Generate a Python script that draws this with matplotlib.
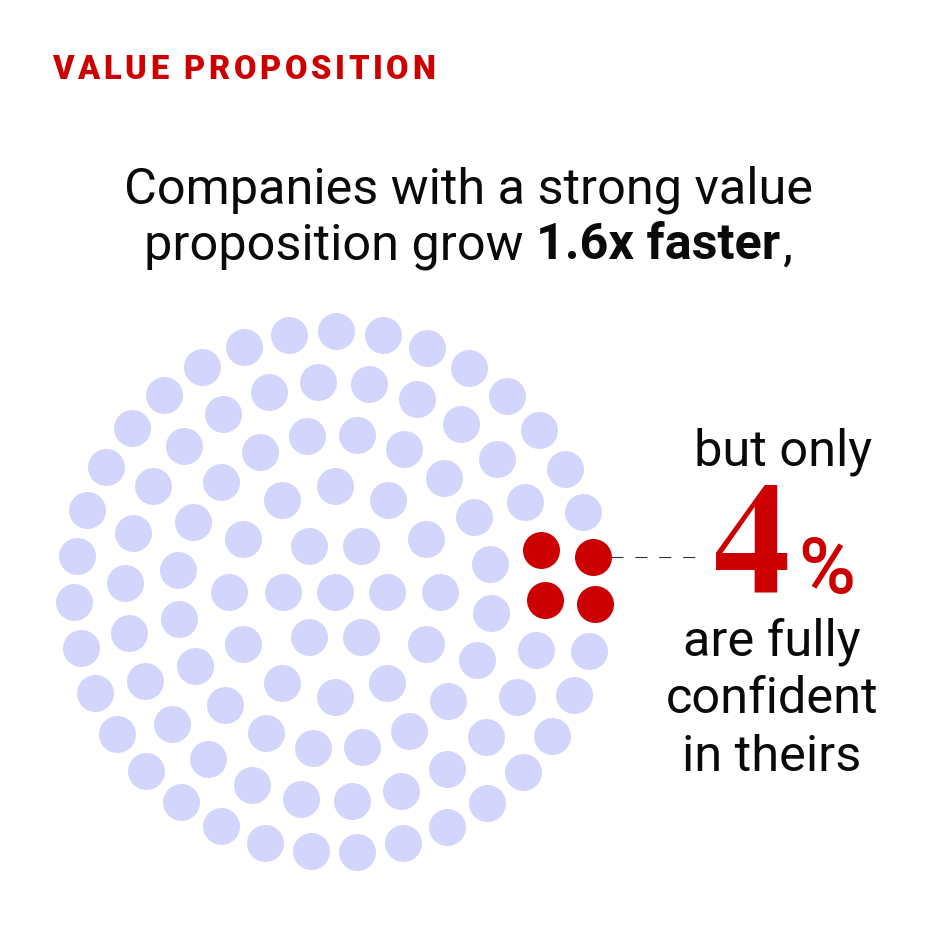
import matplotlib.pyplot as plt

plt.rcParams['lines.scale_dashes'] = False

# dot centres, in pixels (y grows downward)
# 96 light dots: outer ring, second ring, third ring, fourth ring, centre
light_x = [335.8, 382.5, 427.3, 469.4, 506.9, 539.4, 565.1, 583.1,
           588.8, 574.2, 552.1, 522.6, 487.4, 447.2, 403.2, 357.3, 310.6,
           264.6, 221.0, 180.8, 146.0, 116.9, 94.7, 80.6, 74.4, 76.7, 87.1,
           105.8, 131.8, 164.0, 201.9, 244.0, 289.1,
           318.2, 368.7, 417.3, 461.0, 497.3, 524.5,
           536.4, 516.5, 486.2, 446.8, 400.9, 351.5, 301.0, 252.4, 208.4,
           172.0, 144.9, 128.8, 125.0, 133.0, 153.3, 183.5, 222.9, 268.5,
           307.1, 356.5, 403.6, 444.1, 474.4, 490.1, 491.2, 476.7, 448.3,
           408.9, 362.2, 312.9, 265.8, 225.2, 195.4, 179.3, 178.2, 192.7,
           221.0, 260.4,
           334.7, 387.5, 425.8, 439.9, 425.8, 387.1, 334.7, 281.9, 243.2,
           229.4, 243.2, 282.2,
           308.7, 360.7, 282.6, 334.7, 386.7, 308.7, 360.7]
light_y = [330.7, 335.1, 348.1, 368.4, 396.2, 429.8, 469.0, 512.0,
           650.7, 694.7, 735.7, 772.4, 803.1, 826.7, 843.0, 851.5, 851.2,
           842.6, 825.6, 802.0, 770.9, 734.3, 692.8, 648.4, 602.2, 555.6,
           510.1, 467.2, 428.4, 394.7, 367.3, 347.3, 335.1,
           382.1, 384.3, 398.8, 423.9, 459.1, 502.0,
           650.3, 696.5, 737.2, 769.0, 790.9, 800.8, 798.6, 784.6, 759.0,
           723.9, 681.0, 633.3, 583.0, 533.0, 486.4, 445.7, 413.9, 392.1,
           436.1, 435.0, 449.4, 477.9, 517.1, 563.7, 613.3, 660.3, 700.6,
           730.9, 746.8, 747.6, 733.2, 705.0, 665.5, 618.9, 569.7, 522.3,
           482.0, 452.0,
           486.1, 500.1, 538.6, 591.5, 644.0, 682.5, 696.9, 682.5, 644.0,
           591.5, 538.6, 500.1,
           546.0, 546.0, 591.5, 591.5, 591.5, 636.6, 636.6]

# the 4 highlighted dots (4%)
red_x = [592.6, 595.3, 540.6, 544.8]
red_y = [557.1, 604.1, 549.7, 600.4]

header = "VALUE PROPOSITION"
title_1 = "Companies with a strong value"
title_2 = ["proposition grow", "1.6x faster", ","]
side_top = "but only"
big_num = "4"
side_lines = ["are fully", "confident", "in theirs"]

RED = '#CC0000'
LAVENDER = '#D4D5FC'
INK = '#0A0A0A'
SANS = ['Roboto', 'DejaVu Sans']

fig = plt.figure(figsize=(9.36, 9.36), dpi=100)
ax = fig.add_axes([0, 0, 1, 1])
ax.set_xlim(0, 936)
ax.set_ylim(936, 0)
ax.axis('off')
rend = fig.canvas.get_renderer()


def w_of(t):
    return t.get_window_extent(renderer=rend).width


# dots - diameter about 37 px
size = (37 * 72 / 100) ** 2
ax.scatter(light_x, light_y, s=size, c=LAVENDER, linewidths=0, zorder=2)
ax.scatter(red_x, red_y, s=size, c=RED, linewidths=0, zorder=3)

# dashed leader
ax.plot([611, 695], [556.7, 556.7], color='#333333', lw=0.8,
        dashes=(8.6, 8.6), zorder=1)

# letter-spaced header, from x=52 to x=435
hs = 23.5
chars = []
for ch in header:
    if ch == ' ':
        chars.append(None)
        continue
    chars.append(ax.text(0, 79, ch, fontsize=hs, fontweight='black',
                         color=RED, family=SANS, ha='left', va='baseline'))
space_w = hs * 100 / 72 * 0.25
widths = [w_of(c) if c is not None else space_w for c in chars]
gap = (435 - 52 - sum(widths)) / (len(chars) - 1)
x = 52
for c, w in zip(chars, widths):
    if c is not None:
        c.set_x(x)
    x += w + gap

# title, fitted to the reference width
t1 = ax.text(468, 203, title_1, fontsize=34, color=INK, family=SANS,
             ha='center', va='baseline')
fs = 34 * 689 / w_of(t1)
t1.set_fontsize(fs)

runs = []
for i, part in enumerate(title_2):
    wt = 'bold' if i == 1 else 'normal'
    runs.append(ax.text(0, 259, part, fontsize=fs, fontweight=wt,
                        color=INK, family=SANS, ha='left', va='baseline'))
word_gap = fs * 100 / 72 * 0.26
rw = [w_of(t) for t in runs]
total = sum(rw) + word_gap + 2
x = 468 - total / 2
for i, (t, w) in enumerate(zip(runs, rw)):
    t.set_x(x)
    x += w + (word_gap if i == 0 else 2)

# right-hand call-out
probe = ax.text(772, 713, side_lines[1], fontsize=30, color=INK,
                family=SANS, ha='center', va='baseline')
sfs = 30 * 212 / w_of(probe)
probe.remove()
ax.text(783, 465, side_top, fontsize=sfs, color=INK, family=SANS,
        ha='center', va='baseline')
for line, yb in zip(side_lines, [656, 713, 771]):
    ax.text(772, yb, line, fontsize=sfs, color=INK, family=SANS,
            ha='center', va='baseline')

# big serif "4" around x 711..795, then a sans "%" 798..855
four = ax.text(713, 593, big_num, fontsize=100, fontweight='bold',
               color=RED, family='STIXGeneral', ha='left', va='baseline')
four.set_fontsize(100 * 78 / w_of(four))
pct = ax.text(798, 593, '%', fontsize=40, fontweight='medium', color=RED,
              family=SANS, ha='left', va='baseline')
pct.set_fontsize(40 * 57 / w_of(pct))

fig.savefig('out.png', dpi=100, facecolor='white')
